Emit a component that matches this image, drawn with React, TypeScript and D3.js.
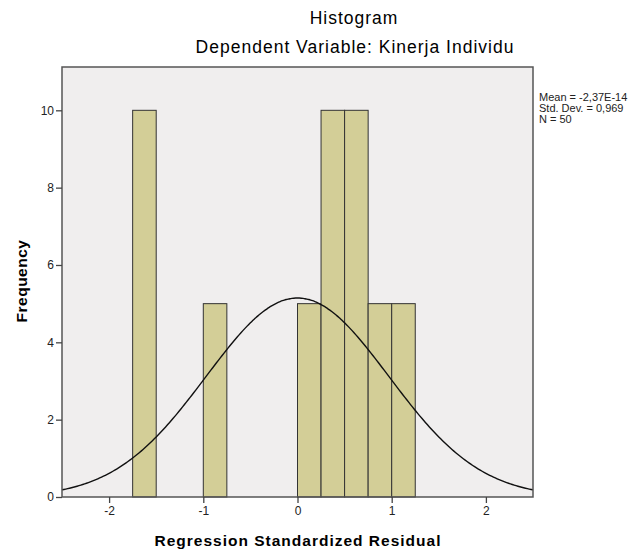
import React, { useRef, useEffect } from 'react';
import * as d3 from 'd3';

// histogram bins (lower edge) and counts
const binStarts = [-1.75, -1.0, 0, 0.25, 0.5, 0.75, 1.0];
const frequencies = [10, 5, 5, 10, 10, 5, 5];
const binWidth = 0.25;

const xTicks = [-2, -1, 0, 1, 2];
const yTicks = [0, 2, 4, 6, 8, 10];

const statLines = ['Mean = -2,37E-14', 'Std. Dev. = 0,969', 'N = 50'];
const mean = -2.37e-14;
const stdDev = 0.969;
const n = 50;

const App = () => {
  const ref = useRef<SVGSVGElement | null>(null);

  useEffect(() => {
    const W = 639;
    const H = 552;
    const left = 62, right = 533, top = 67, bottom = 497;

    const svg = d3.select(ref.current);
    svg.selectAll('*').remove();

    const font = '"Liberation Sans", Arial, sans-serif';

    const x = d3.scaleLinear().domain([-2.5, 2.5]).range([left, right]);
    const y = d3.scaleLinear().domain([0, 11.12]).range([bottom, top]);

    // plot background
    svg.append('rect')
      .attr('x', left).attr('y', top)
      .attr('width', right - left).attr('height', bottom - top)
      .attr('fill', '#f0eeee');

    // bars
    const data = binStarts.map((b, i) => ({ b, f: frequencies[i] }));
    svg.selectAll('.bar')
      .data(data)
      .enter()
      .append('rect')
      .attr('class', 'bar')
      .attr('x', d => x(d.b))
      .attr('y', d => y(d.f))
      .attr('width', d => x(d.b + binWidth) - x(d.b))
      .attr('height', d => y(0) - y(d.f))
      .attr('fill', '#d3ce97')
      .attr('stroke', '#333')
      .attr('stroke-width', 1);

    // normal curve from the summary stats
    const pts = d3.range(-2.5, 2.5001, 0.02).map(v => [
      v,
      n * binWidth * Math.exp(-0.5 * ((v - mean) / stdDev) ** 2) / (stdDev * Math.sqrt(2 * Math.PI)),
    ]);
    svg.append('path')
      .datum(pts)
      .attr('d', d3.line<number[]>().x(d => x(d[0])).y(d => y(d[1])).curve(d3.curveBasis))
      .attr('fill', 'none')
      .attr('stroke', '#111')
      .attr('stroke-width', 1.4);

    // frame
    svg.append('rect')
      .attr('x', left).attr('y', top)
      .attr('width', right - left).attr('height', bottom - top)
      .attr('fill', 'none')
      .attr('stroke', '#555')
      .attr('stroke-width', 1.5);

    // axes
    const xAxis = svg.append('g')
      .attr('transform', `translate(0,${bottom})`)
      .call(d3.axisBottom(x).tickValues(xTicks).tickSize(6).tickPadding(3).tickFormat(d => String(d)));
    const yAxis = svg.append('g')
      .attr('transform', `translate(${left},0)`)
      .call(d3.axisLeft(y).tickValues(yTicks).tickSize(6).tickPadding(2).tickFormat(d => String(d)));
    [xAxis, yAxis].forEach(g => {
      g.select('.domain').remove();
      g.selectAll('line').attr('stroke', '#444').attr('stroke-width', 1.3);
      g.selectAll('text').attr('font-family', font).attr('font-size', 12).attr('fill', '#222');
    });

    // titles
    svg.append('text')
      .attr('x', 354).attr('y', 24)
      .attr('text-anchor', 'middle')
      .attr('font-family', font).attr('font-size', 17.5).attr('letter-spacing', 1)
      .text('Histogram');
    svg.append('text')
      .attr('x', 355).attr('y', 52.5)
      .attr('text-anchor', 'middle')
      .attr('font-family', font).attr('font-size', 17.5).attr('letter-spacing', 1)
      .text('Dependent Variable: Kinerja Individu');

    svg.append('text')
      .attr('x', 298).attr('y', 545.5)
      .attr('text-anchor', 'middle')
      .attr('font-family', font).attr('font-size', 15.5).attr('font-weight', 'bold')
      .attr('letter-spacing', 1)
      .text('Regression Standardized Residual');
    svg.append('text')
      .attr('transform', `translate(27,${281}) rotate(-90)`)
      .attr('text-anchor', 'middle')
      .attr('font-family', font).attr('font-size', 15.5).attr('font-weight', 'bold')
      .attr('letter-spacing', 0.5)
      .text('Frequency');

    // stats box
    svg.selectAll('.stat')
      .data(statLines)
      .enter()
      .append('text')
      .attr('class', 'stat')
      .attr('x', 539)
      .attr('y', (d, i) => 101 + i * 11)
      .attr('font-family', font).attr('font-size', 11)
      .attr('fill', '#222')
      .text(d => d);

    svg.attr('width', W).attr('height', H);
  }, []);

  return (
    <svg ref={ref} width={639} height={552}
      style={{ position: 'absolute', left: 0, top: 0, background: '#fff' }} />
  );
};

export default App;
